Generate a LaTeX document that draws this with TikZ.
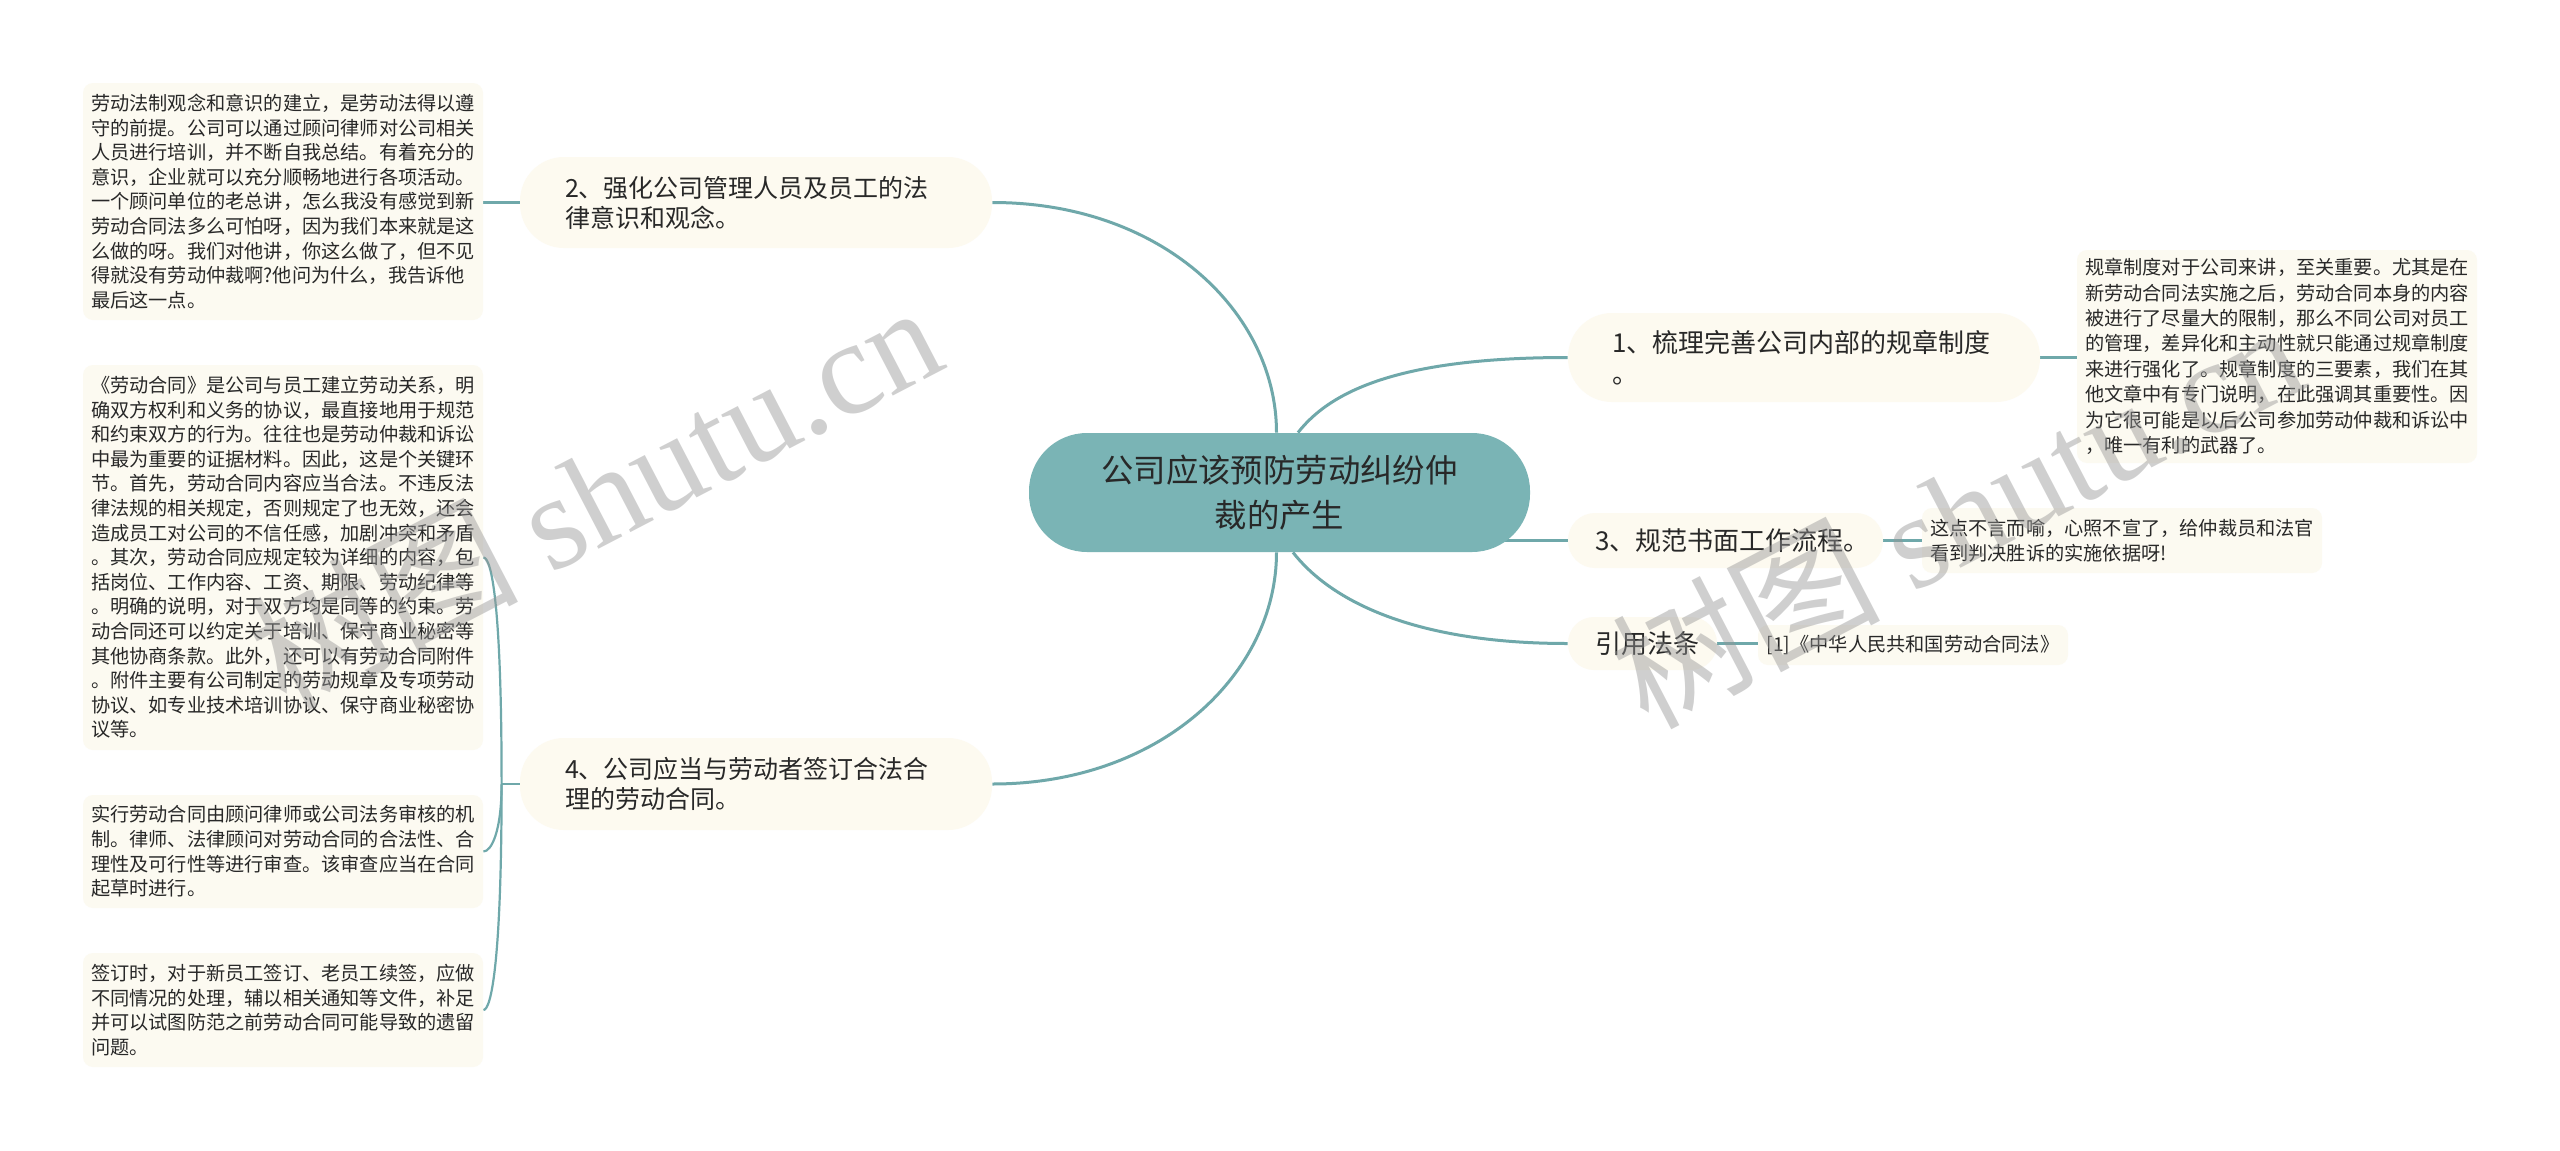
\documentclass[tikz,border=0pt]{standalone}
\usepackage{fontspec}
\setmainfont{Noto Sans CJK SC}
\newfontfamily\wmlatin{Liberation Serif}
\usetikzlibrary{calc}
\definecolor{linec}{RGB}{111,168,170}
\definecolor{cfill}{RGB}{122,180,181}
\definecolor{nodefill}{RGB}{253,250,240}
\definecolor{leaffill}{RGB}{252,250,241}
\definecolor{txt}{RGB}{40,40,40}
\definecolor{wmc}{RGB}{150,150,150}
\pgfdeclarelayer{conlayer}
\pgfsetlayers{conlayer,main}
\newcommand{\padA}{\hspace*{22.5pt}}
\newcommand{\padB}{\hspace*{22pt}}
\newcommand{\padC}{\hspace*{13.5pt}}
\begin{document}
\begin{tikzpicture}[x=0.5pt,y=-0.5pt,
  central/.style={fill=cfill, rounded corners=29pt, minimum width=250.5pt, minimum height=59.5pt, inner sep=0pt, align=center, text=txt, font=\fontsize{16.2}{22.5}\selectfont},
  mainbox/.style={fill=nodefill, inner sep=0pt, align=left, text=txt, font=\fontsize{12.5}{15}\selectfont},
  rmainbox/.style={mainbox, font=\fontsize{13}{15.5}\selectfont},
  leafbox/.style={fill=leaffill, rounded corners=5pt, inner sep=0pt, align=left, text=txt, font=\fontsize{9.6}{12.3}\selectfont},
  conn/.style={draw=linec, line width=1.5pt},
  leafconn/.style={draw=linec, line width=1.4pt},
  bconn/.style={draw=linec, line width=1.1pt},
  wm/.style={text=wmc, opacity=0.45, rotate=27.5, inner sep=0pt, font=\fontsize{67}{69}\selectfont}
]
\begin{pgfonlayer}{conlayer}
\fill[white] (0,0) rectangle (2560,1151);
\end{pgfonlayer}
\useasboundingbox (0,0) rectangle (2560,1151);

% central
\node[central] (c) at (1279.5,492.5) {公司应该预防劳动纠纷仲\\裁的产生};

% main branches
\node[mainbox, rounded corners=22pt, text width=236pt, minimum height=45.5pt] (n2) at (756,202.5)
  {\padA 2、强化公司管理人员及员工的法\\\padA 律意识和观念。};
\node[mainbox, rounded corners=22pt, text width=236pt, minimum height=46pt] (n4) at (756,784)
  {\padA 4、公司应当与劳动者签订合法合\\\padA 理的劳动合同。};
\node[rmainbox, rounded corners=22pt, text width=236pt, minimum height=44.5pt] (n1) at (1804,357.5)
  {\padB 1、梳理完善公司内部的规章制度\\\padB 。};
\node[rmainbox, rounded corners=13.5pt, text width=157.5pt, minimum height=27.5pt] (n3) at (1725.5,540.5)
  {\padC 3、规范书面工作流程。};
\node[rmainbox, rounded corners=13pt, text width=74.5pt, minimum height=26.5pt] (nref) at (1642.5,643.5)
  {\padC 引用法条};

% left leaves
\node[leafbox, minimum width=200pt, minimum height=118.5pt] (A) at (283,201.5)
  {劳动法制观念和意识的建立，是劳动法得以遵\\
   守的前提。公司可以通过顾问律师对公司相关\\
   人员进行培训，并不断自我总结。有着充分的\\
   意识，企业就可以充分顺畅地进行各项活动。\\
   一个顾问单位的老总讲，怎么我没有感觉到新\\
   劳动合同法多么可怕呀，因为我们本来就是这\\
   么做的呀。我们对他讲，你这么做了，但不见\\
   得就没有劳动仲裁啊?他问为什么，我告诉他\\
   最后这一点。};
\node[leafbox, minimum width=200pt, minimum height=192.5pt] (B) at (283,557.5)
  {《劳动合同》是公司与员工建立劳动关系，明\\
   确双方权利和义务的协议，最直接地用于规范\\
   和约束双方的行为。往往也是劳动仲裁和诉讼\\
   中最为重要的证据材料。因此，这是个关键环\\
   节。首先，劳动合同内容应当合法。不违反法\\
   律法规的相关规定，否则规定了也无效，还会\\
   造成员工对公司的不信任感，加剧冲突和矛盾\\
   。其次，劳动合同应规定较为详细的内容，包\\
   括岗位、工作内容、工资、期限、劳动纪律等\\
   。明确的说明，对于双方均是同等的约束。劳\\
   动合同还可以约定关于培训、保守商业秘密等\\
   其他协商条款。此外，还可以有劳动合同附件\\
   。附件主要有公司制定的劳动规章及专项劳动\\
   协议、如专业技术培训协议、保守商业秘密协\\
   议等。};
\node[leafbox, minimum width=200pt, minimum height=56.5pt] (C) at (283,851.5)
  {实行劳动合同由顾问律师或公司法务审核的机\\
   制。律师、法律顾问对劳动合同的合法性、合\\
   理性及可行性等进行审查。该审查应当在合同\\
   起草时进行。};
\node[leafbox, minimum width=200pt, minimum height=57pt] (D) at (283,1010)
  {签订时，对于新员工签订、老员工续签，应做\\
   不同情况的处理，辅以相关通知等文件，补足\\
   并可以试图防范之前劳动合同可能导致的遗留\\
   问题。};

% right leaves
\node[leafbox, font=\fontsize{9.6}{12.7}\selectfont, minimum width=200pt, minimum height=106.5pt] (R1) at (2277,356.5)
  {规章制度对于公司来讲，至关重要。尤其是在\\
   新劳动合同法实施之后，劳动合同本身的内容\\
   被进行了尽量大的限制，那么不同公司对员工\\
   的管理，差异化和主动性就只能通过规章制度\\
   来进行强化了。规章制度的三要素，我们在其\\
   他文章中有专门说明，在此强调其重要性。因\\
   为它很可能是以后公司参加劳动仲裁和诉讼中\\
   ，唯一有利的武器了。};
\node[leafbox, font=\fontsize{9.6}{12.5}\selectfont, minimum width=200pt, minimum height=32.5pt] (R3) at (2122,540.5)
  {这点不言而喻，心照不宣了，给仲裁员和法官\\
   看到判决胜诉的实施依据呀!};
\node[leafbox, minimum width=155pt, minimum height=20pt] (Rref) at (1913,645)
  {[1]《中华人民共和国劳动合同法》};

% connectors
\begin{pgfonlayer}{conlayer}
\draw[conn] ($(c.north)+(-3,0)$) .. controls +(0,-120) and +(170,0) .. (n2.east);
\draw[conn] ($(c.south)+(-3,0)$) .. controls +(0,120) and +(170,0) .. (n4.east);
\draw[conn] ($(c.north)+(18.5,0)$) .. controls +(35,-45) and +(-160,0) .. (n1.west);
\draw[conn] (c.center |- n3.west) -- (n3.west);
\draw[conn] ($(c.south)+(13.5,0)$) .. controls +(35,45) and +(-160,0) .. (nref.west);
\draw[leafconn] (n2.west) -- (n2.west -| A.east);
\draw[leafconn] (n1.east) -- (n1.east -| R1.west);
\draw[leafconn] (n3.east) -- (n3.east -| R3.west);
\draw[leafconn] (nref.east) -- (nref.east -| Rref.west);
\coordinate (j) at ($(n4.west)+(-18,0)$);
\draw[leafconn] (n4.west) -- (j);
\draw[bconn] (j) .. controls ($(j |- B.east)+(0,45)$) and ($(B.east)+(8,0)$) .. (B.east);
\draw[bconn] (j) .. controls ($(j |- C.east)+(0,-20)$) and ($(C.east)+(8,0)$) .. (C.east);
\draw[bconn] (j) .. controls ($(j |- D.east)+(0,-50)$) and ($(D.east)+(8,0)$) .. (D.east);
\end{pgfonlayer}

% watermarks
\node[wm, anchor=base east] (wm1) at (950,366) {树图 {\wmlatin shutu.cn}};
\node[wm, anchor=base east] (wm2) at (2312,385) {树图 {\wmlatin shutu.cn}};
\end{tikzpicture}
\end{document}
